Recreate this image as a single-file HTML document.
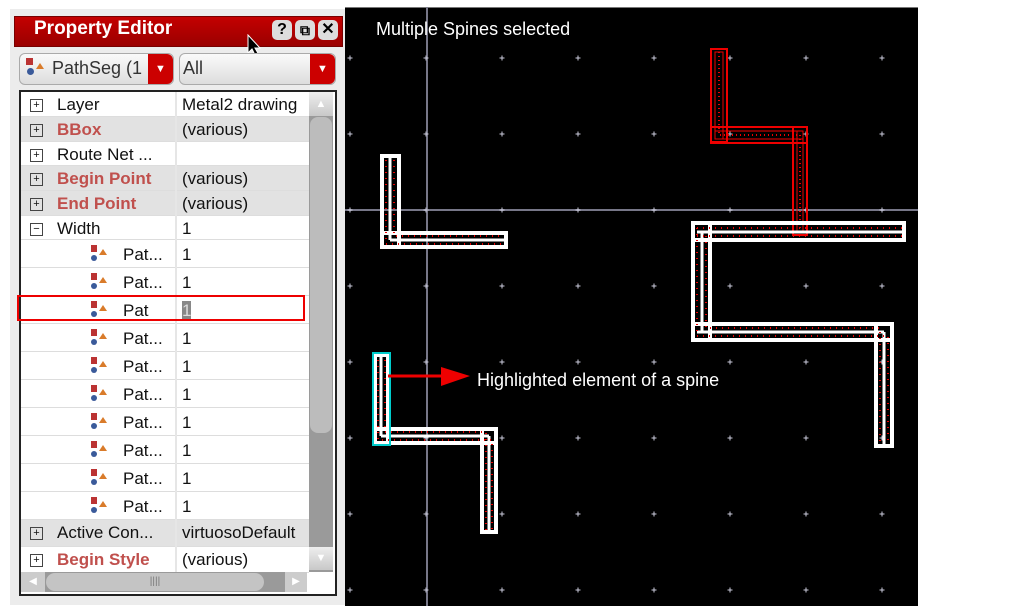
<!DOCTYPE html>
<html><head><meta charset="utf-8"><style>
body{margin:0;width:1013px;height:613px;position:relative;background:#fff;font-family:"Liberation Sans",sans-serif;overflow:hidden}
.a{position:absolute}
.row{position:absolute;left:21px;width:288px;border-bottom:1px solid #ddd;font-size:17px;color:#111;overflow:hidden}
.row .k{position:absolute;left:36px;top:3px}
.row .v{position:absolute;left:161px;top:3px;white-space:nowrap}
.row .pm{position:absolute;left:9px;width:11px;height:11px;border:1px solid #444;font-size:11px;line-height:10px;text-align:center;top:7px}
.red{color:#c0504d;font-weight:bold}
.g{background:#e2e2e2}
.ic{position:absolute;left:70px;top:5px;width:16px;height:18px}
.ic i{position:absolute;display:block}
.div{position:absolute;left:175px;top:92px;width:2px;height:480px;background:#e6e6e6}
</style></head><body>
<div class="a" style="left:10px;top:9px;width:335px;height:596px;background:#ececec"></div>
<div class="a" style="left:14px;top:16px;width:327px;height:29px;background:linear-gradient(#c40000,#9a0000);border:1px solid #700"></div>
<div class="a" style="left:34px;top:18px;color:#fff;font-weight:bold;font-size:19px">Property Editor</div>
<div class="a" style="left:272px;top:20px;width:20px;height:20px;border-radius:5px;background:#ddd;font-weight:bold;font-size:16px;text-align:center;line-height:20px">?</div>
<div class="a" style="left:295px;top:20px;width:20px;height:20px;border-radius:5px;background:#ddd;font-weight:bold;font-size:14px;text-align:center;line-height:20px">⧉</div>
<div class="a" style="left:318px;top:20px;width:20px;height:20px;border-radius:5px;background:#ddd;font-weight:bold;font-size:16px;text-align:center;line-height:20px">✕</div>
<svg class="a" style="left:246px;top:34px" width="16" height="26"><path d="M2 1 L2 19 L6 15 L10 23 L13 21 L9 14 L14 14 Z" fill="#000" stroke="#fff" stroke-width="1"/></svg>
<div class="a" style="left:19px;top:53px;width:153px;height:30px;border-radius:6px;background:linear-gradient(#fafafa,#ddd);border:1px solid #aaa"></div>
<div class="a" style="left:148px;top:54px;width:25px;height:30px;border-radius:0 6px 6px 0;background:#c00;color:#fff;text-align:center;line-height:30px;font-size:11px">▼</div>
<div class="a" style="left:26px;top:58px;width:7px;height:7px;background:#b33"></div>
<div class="a" style="left:27px;top:68px;width:7px;height:7px;border-radius:50%;background:#3a5a9a"></div>
<div class="a" style="left:36px;top:63px;width:0;height:0;border-left:4px solid transparent;border-right:4px solid transparent;border-bottom:6px solid #d97b2a"></div>
<div class="a" style="left:52px;top:58px;font-size:18px;color:#333">PathSeg (1</div>
<div class="a" style="left:179px;top:53px;width:155px;height:30px;border-radius:6px;background:linear-gradient(#fafafa,#ddd);border:1px solid #aaa"></div>
<div class="a" style="left:310px;top:54px;width:25px;height:30px;border-radius:0 6px 6px 0;background:#c00;color:#fff;text-align:center;line-height:30px;font-size:11px">▼</div>
<div class="a" style="left:183px;top:58px;font-size:18px;color:#333">All</div>
<div class="a" style="left:19px;top:90px;width:314px;height:502px;border:2px solid #222;background:#fff"></div>

<div class="row" style="top:92px;height:24px"><span class="pm">+</span><span class="k">Layer</span><span class="v">Metal2 drawing</span></div>
<div class="row g" style="top:117px;height:24px"><span class="pm">+</span><span class="k red">BBox</span><span class="v">(various)</span></div>
<div class="row" style="top:142px;height:23px"><span class="pm">+</span><span class="k">Route Net ...</span><span class="v"></span></div>
<div class="row g" style="top:166px;height:24px"><span class="pm">+</span><span class="k red">Begin Point</span><span class="v">(various)</span></div>
<div class="row g" style="top:191px;height:24px"><span class="pm">+</span><span class="k red">End Point</span><span class="v">(various)</span></div>
<div class="row" style="top:216px;height:23px"><span class="pm">−</span><span class="k">Width</span><span class="v">1</span></div>

<div class="row" style="top:240px;height:27px"><span class="ic"><i style="left:0;top:0;width:6px;height:7px;background:#b33"></i><i style="left:0;top:10px;width:6px;height:6px;border-radius:50%;background:#3a5a9a"></i><i style="left:8px;top:4px;border-left:4px solid transparent;border-right:4px solid transparent;border-bottom:6px solid #d97b2a"></i></span><span class="k" style="left:102px;top:5px">Pat...</span><span class="v" style="top:5px">1</span></div>
<div class="row" style="top:268px;height:27px"><span class="ic"><i style="left:0;top:0;width:6px;height:7px;background:#b33"></i><i style="left:0;top:10px;width:6px;height:6px;border-radius:50%;background:#3a5a9a"></i><i style="left:8px;top:4px;border-left:4px solid transparent;border-right:4px solid transparent;border-bottom:6px solid #d97b2a"></i></span><span class="k" style="left:102px;top:5px">Pat...</span><span class="v" style="top:5px">1</span></div>
<div class="row" style="top:296px;height:27px"><span class="ic"><i style="left:0;top:0;width:6px;height:7px;background:#b33"></i><i style="left:0;top:10px;width:6px;height:6px;border-radius:50%;background:#3a5a9a"></i><i style="left:8px;top:4px;border-left:4px solid transparent;border-right:4px solid transparent;border-bottom:6px solid #d97b2a"></i></span><span class="k" style="left:102px;top:5px">Pat</span><span class="v" style="top:5px;background:#888;color:#ddd">1</span></div>
<div class="row" style="top:324px;height:27px"><span class="ic"><i style="left:0;top:0;width:6px;height:7px;background:#b33"></i><i style="left:0;top:10px;width:6px;height:6px;border-radius:50%;background:#3a5a9a"></i><i style="left:8px;top:4px;border-left:4px solid transparent;border-right:4px solid transparent;border-bottom:6px solid #d97b2a"></i></span><span class="k" style="left:102px;top:5px">Pat...</span><span class="v" style="top:5px">1</span></div>
<div class="row" style="top:352px;height:27px"><span class="ic"><i style="left:0;top:0;width:6px;height:7px;background:#b33"></i><i style="left:0;top:10px;width:6px;height:6px;border-radius:50%;background:#3a5a9a"></i><i style="left:8px;top:4px;border-left:4px solid transparent;border-right:4px solid transparent;border-bottom:6px solid #d97b2a"></i></span><span class="k" style="left:102px;top:5px">Pat...</span><span class="v" style="top:5px">1</span></div>
<div class="row" style="top:380px;height:27px"><span class="ic"><i style="left:0;top:0;width:6px;height:7px;background:#b33"></i><i style="left:0;top:10px;width:6px;height:6px;border-radius:50%;background:#3a5a9a"></i><i style="left:8px;top:4px;border-left:4px solid transparent;border-right:4px solid transparent;border-bottom:6px solid #d97b2a"></i></span><span class="k" style="left:102px;top:5px">Pat...</span><span class="v" style="top:5px">1</span></div>
<div class="row" style="top:408px;height:27px"><span class="ic"><i style="left:0;top:0;width:6px;height:7px;background:#b33"></i><i style="left:0;top:10px;width:6px;height:6px;border-radius:50%;background:#3a5a9a"></i><i style="left:8px;top:4px;border-left:4px solid transparent;border-right:4px solid transparent;border-bottom:6px solid #d97b2a"></i></span><span class="k" style="left:102px;top:5px">Pat...</span><span class="v" style="top:5px">1</span></div>
<div class="row" style="top:436px;height:27px"><span class="ic"><i style="left:0;top:0;width:6px;height:7px;background:#b33"></i><i style="left:0;top:10px;width:6px;height:6px;border-radius:50%;background:#3a5a9a"></i><i style="left:8px;top:4px;border-left:4px solid transparent;border-right:4px solid transparent;border-bottom:6px solid #d97b2a"></i></span><span class="k" style="left:102px;top:5px">Pat...</span><span class="v" style="top:5px">1</span></div>
<div class="row" style="top:464px;height:27px"><span class="ic"><i style="left:0;top:0;width:6px;height:7px;background:#b33"></i><i style="left:0;top:10px;width:6px;height:6px;border-radius:50%;background:#3a5a9a"></i><i style="left:8px;top:4px;border-left:4px solid transparent;border-right:4px solid transparent;border-bottom:6px solid #d97b2a"></i></span><span class="k" style="left:102px;top:5px">Pat...</span><span class="v" style="top:5px">1</span></div>
<div class="row" style="top:492px;height:27px"><span class="ic"><i style="left:0;top:0;width:6px;height:7px;background:#b33"></i><i style="left:0;top:10px;width:6px;height:6px;border-radius:50%;background:#3a5a9a"></i><i style="left:8px;top:4px;border-left:4px solid transparent;border-right:4px solid transparent;border-bottom:6px solid #d97b2a"></i></span><span class="k" style="left:102px;top:5px">Pat...</span><span class="v" style="top:5px">1</span></div>
<div class="row g" style="top:520px;height:26px"><span class="pm">+</span><span class="k">Active Con...</span><span class="v">virtuosoDefault</span></div>
<div class="row" style="top:547px;height:25px"><span class="pm">+</span><span class="k red">Begin Style</span><span class="v">(various)</span></div>
<div class="div"></div>
<div class="a" style="left:309px;top:92px;width:24px;height:480px;background:#9a9a9a"></div>
<div class="a" style="left:309px;top:92px;width:24px;height:24px;background:linear-gradient(#eee,#c8c8c8);color:#fff;text-align:center;font-size:11px;line-height:24px">▲</div>
<div class="a" style="left:310px;top:117px;width:22px;height:316px;border-radius:8px;background:#bcbcbc"></div>
<div class="a" style="left:309px;top:547px;width:24px;height:23px;background:linear-gradient(#eee,#c8c8c8);color:#fff;text-align:center;font-size:11px;line-height:23px">▼</div>
<div class="a" style="left:21px;top:572px;width:286px;height:20px;background:#9a9a9a"></div>
<div class="a" style="left:21px;top:572px;width:24px;height:20px;background:#ccc;color:#fff;font-size:10px;line-height:20px;text-align:center">◀</div>
<div class="a" style="left:46px;top:573px;width:218px;height:18px;border-radius:9px;background:#c4c4c4;color:#777;font-size:10px;text-align:center;line-height:18px">||||</div>
<div class="a" style="left:285px;top:572px;width:22px;height:20px;background:#ccc;color:#fff;font-size:10px;line-height:20px;text-align:center">▶</div>
<div class="a" style="left:17px;top:295px;width:284px;height:22px;border:2px solid #e00"></div>

<svg class="a" style="left:345px;top:0" width="573" height="613" viewBox="345 0 573 613">
<defs>
<g id="col"><rect x="-2.5" y="57.5" width="5" height="1"/><rect x="-0.5" y="55.5" width="1" height="5"/><rect x="-2.5" y="133.5" width="5" height="1"/><rect x="-0.5" y="131.5" width="1" height="5"/><rect x="-2.5" y="209.5" width="5" height="1"/><rect x="-0.5" y="207.5" width="1" height="5"/><rect x="-2.5" y="285.5" width="5" height="1"/><rect x="-0.5" y="283.5" width="1" height="5"/><rect x="-2.5" y="361.5" width="5" height="1"/><rect x="-0.5" y="359.5" width="1" height="5"/><rect x="-2.5" y="437.5" width="5" height="1"/><rect x="-0.5" y="435.5" width="1" height="5"/><rect x="-2.5" y="513.5" width="5" height="1"/><rect x="-0.5" y="511.5" width="1" height="5"/><rect x="-2.5" y="589.5" width="5" height="1"/><rect x="-0.5" y="587.5" width="1" height="5"/></g>
</defs>
<rect x="345" y="7" width="573" height="599" fill="#000"/>
<line x1="345" y1="7.5" x2="918" y2="7.5" stroke="#777"/>
<line x1="427" y1="7" x2="427" y2="606" stroke="#778" stroke-width="2"/>
<line x1="345" y1="210" x2="918" y2="210" stroke="#778" stroke-width="2"/>
<g fill="#ccd">
<use href="#col" x="350"/><use href="#col" x="426"/><use href="#col" x="502"/><use href="#col" x="578"/><use href="#col" x="654"/><use href="#col" x="730"/><use href="#col" x="806"/><use href="#col" x="882"/>
</g>
<text x="376" y="35" fill="#fff" font-size="18" font-family="Liberation Sans">Multiple Spines selected</text>
<g fill="none" stroke="#e00">
<rect x="711" y="49" width="16" height="93" stroke-width="2"/><rect x="711" y="127" width="96" height="16" stroke-width="2"/><rect x="793" y="127" width="14" height="108" stroke-width="2"/>
<rect x="715" y="52" width="8" height="87" stroke-width="1"/><rect x="715" y="131" width="88" height="8" stroke-width="1"/><rect x="797" y="131" width="6" height="102" stroke-width="1"/>
<path d="M719 52 V135 H800 V235" stroke-dasharray="1 3" stroke-width="2"/>
</g>
<g fill="none" stroke="#fff">
<g stroke-width="4"><rect x="382" y="156" width="17" height="91"/><rect x="382" y="233" width="124" height="14"/>
<rect x="375" y="429" width="121" height="14"/><rect x="482" y="429" width="14" height="103"/><rect x="375" y="355" width="13" height="88"/>
<rect x="693" y="223" width="211" height="17"/><rect x="693" y="223" width="17" height="117"/><rect x="693" y="324" width="199" height="16"/><rect x="876" y="324" width="16" height="122"/></g>
<g stroke-width="3"><line x1="390" y1="157" x2="390" y2="240"/><line x1="390" y1="240" x2="505" y2="240"/>
<line x1="381" y1="356" x2="381" y2="436"/><line x1="381" y1="436" x2="489" y2="436"/><line x1="489" y1="436" x2="489" y2="531"/>
<line x1="697" y1="232" x2="903" y2="232"/><line x1="702" y1="232" x2="702" y2="332"/><line x1="697" y1="332" x2="884" y2="332"/><line x1="884" y1="332" x2="884" y2="445"/></g>
</g>
<g fill="none" stroke="#e00" stroke-width="2" stroke-dasharray="1 5">
<path d="M386 160 V244 H504"/><path d="M394 160 V236 H504"/>
<path d="M378 360 V440 H492 V530"/><path d="M385 360 V432 H486 V530"/>
<path d="M697 228 H902"/><path d="M697 236 H902"/><path d="M697 228 V336 H888 V444"/><path d="M706 236 V328 H880 V444"/>
</g>
<rect x="373" y="353" width="17" height="92" fill="none" stroke="#0cc" stroke-width="2"/>
<line x1="388" y1="376" x2="445" y2="376" stroke="#e00" stroke-width="3"/>
<polygon points="441,367 470,376 441,386" fill="#e00"/>
<text x="477" y="386" fill="#fff" font-size="18" font-family="Liberation Sans">Highlighted element of a spine</text>
</svg>
</body></html>
